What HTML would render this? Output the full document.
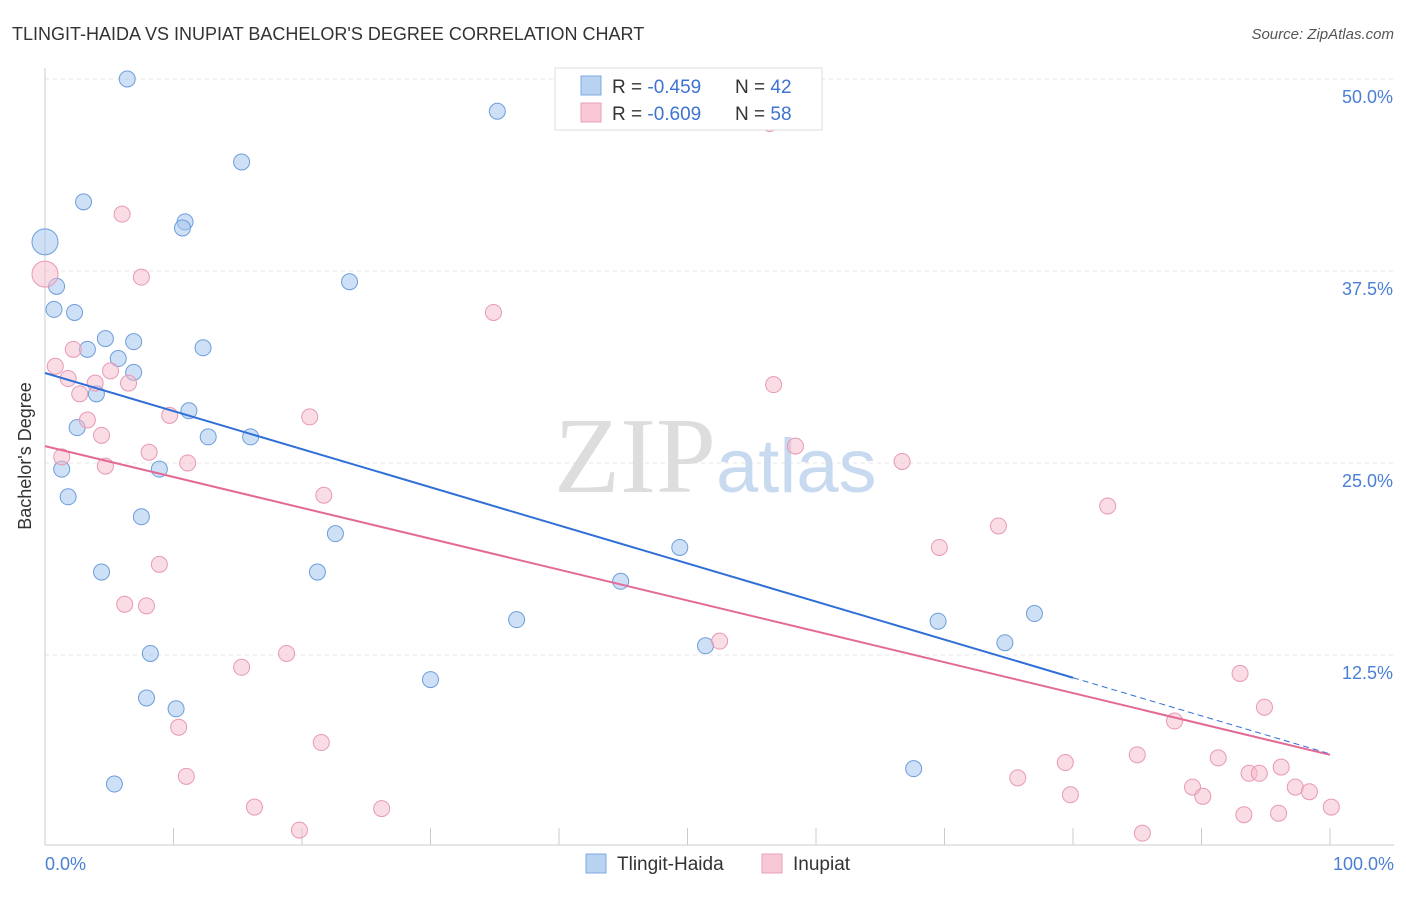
<!DOCTYPE html>
<html><head><meta charset="utf-8"><style>
body{margin:0;background:#fff;font-family:"Liberation Sans",sans-serif}
</style></head><body>
<svg width="1406" height="892" viewBox="0 0 1406 892" xmlns="http://www.w3.org/2000/svg">
<text x="12" y="40" font-size="18" fill="#333">TLINGIT-HAIDA VS INUPIAT BACHELOR'S DEGREE CORRELATION CHART</text>
<text x="1394" y="39" font-size="15" fill="#555" font-style="italic" text-anchor="end">Source: ZipAtlas.com</text>
<g id="grid"></g>
<text x="716" y="492" font-size="108" fill="#ddd" text-anchor="end" font-family="Liberation Serif">ZIP</text>
<text x="716" y="492" font-size="76" fill="#c8daf0">atlas</text>
<line x1="45" y1="68" x2="45" y2="845" stroke="#ccc"/>
<line x1="45" y1="845" x2="1394" y2="845" stroke="#ccc"/>
<text x="31" y="456" font-size="18" fill="#333" text-anchor="middle" transform="rotate(-90 31 456)">Bachelor's Degree</text>
<text x="45" y="870" font-size="18" fill="#4a7fd4">0.0%</text>
<text x="1394" y="870" font-size="18" fill="#4a7fd4" text-anchor="end">100.0%</text>
<g id="points"></g>
<g>
<rect x="555" y="68" width="267" height="62" fill="#fff" stroke="#ddd"/>
<rect x="581" y="76" width="20" height="19" fill="#b8d2f2" stroke="#7fa8e0"/>
<rect x="581" y="103" width="20" height="19" fill="#f8c8d6" stroke="#eaa0b8"/>
<text x="612" y="93" font-size="19" fill="#333">R = <tspan fill="#3d74d0">-0.459</tspan><tspan x="735">N = </tspan><tspan fill="#3d74d0">42</tspan></text>
<text x="612" y="120" font-size="19" fill="#333">R = <tspan fill="#3d74d0">-0.609</tspan><tspan x="735">N = </tspan><tspan fill="#3d74d0">58</tspan></text>
</g>
<g>
<rect x="586" y="854" width="20" height="19" fill="#b8d2f2" stroke="#7fa8e0"/>
<text x="617" y="870" font-size="19" fill="#333">Tlingit-Haida</text>
<rect x="762" y="854" width="20" height="19" fill="#f8c8d6" stroke="#eaa0b8"/>
<text x="793" y="870" font-size="19" fill="#333">Inupiat</text>
</g>
</svg>
<script>
const yTicks=[12.5,25,37.5,50];
const yTickLabels=["12.5%","25.0%","37.5%","50.0%"];
const xTicks=[0,10,20,30,40,50,60,70,80,90,100];
const blueX=[6.4,35.2,15.3,3.0,10.9,10.7,0,23.7,0.9,0.7,2.3,4.7,6.9,3.3,12.3,5.7,6.9,4.0,11.2,2.5,12.7,16.0,1.3,8.9,1.8,7.5,22.6,49.4,4.4,21.2,44.8,36.7,69.5,77.0,74.7,51.4,8.2,30.0,7.9,10.2,67.6,5.4];
const blueY=[50.0,47.9,44.6,42.0,40.7,40.3,39.4,36.8,36.5,35.0,34.8,33.1,32.9,32.4,32.5,31.8,30.9,29.5,28.4,27.3,26.7,26.7,24.6,24.6,22.8,21.5,20.4,19.5,17.9,17.9,17.3,14.8,14.7,15.2,13.3,13.1,12.6,10.9,9.7,9.0,5.1,4.1];
const pinkX=[56.4,6.0,7.5,0,34.9,0.8,2.2,1.8,3.9,5.1,6.5,2.7,3.3,9.7,20.6,4.4,56.7,8.1,1.3,11.1,4.7,58.4,66.7,21.7,82.7,74.2,69.6,8.9,6.2,7.9,52.5,18.8,15.3,93.0,94.9,87.9,10.4,21.5,85.0,79.4,91.3,75.7,11.0,96.2,93.7,94.5,89.3,90.1,97.3,79.8,98.4,16.3,26.2,100.1,96.0,93.3,19.8,85.4];
const pinkY=[47.1,41.2,37.1,37.3,34.8,31.3,32.4,30.5,30.2,31.0,30.2,29.5,27.8,28.1,28.0,26.8,30.1,25.7,25.4,25.0,24.8,26.1,25.1,22.9,22.2,20.9,19.5,18.4,15.8,15.7,13.4,12.6,11.7,11.3,9.1,8.2,7.8,6.8,6.0,5.5,5.8,4.5,4.6,5.2,4.8,4.8,3.9,3.3,3.9,3.4,3.6,2.6,2.5,2.6,2.2,2.1,1.1,0.9];
const bigBlue=[6], bigPink=[3];
const blueLine=[30.86,-0.248], blueSolidEnd=80;
const pinkLine=[26.1,-0.201];
const X=v=>45+v*12.85, Y=v=>847-v*15.36;
const NS="http://www.w3.org/2000/svg";
const grid=document.getElementById('grid'), pts=document.getElementById('points');
function mk(tag,at,parent){const e=document.createElementNS(NS,tag);for(const k in at)e.setAttribute(k,at[k]);parent.appendChild(e);return e;}
yTicks.forEach((t,i)=>{
 const l=mk('line',{x1:45,x2:1394,y1:Y(t),y2:Y(t),stroke:'#e4e4e4','stroke-dasharray':'4 4'},grid);
 
 
 const tx=mk('text',{x:1393,y:Y(t)+24,'font-size':18,fill:'#4a7fd4','text-anchor':'end'},grid);
 tx.textContent=yTickLabels[i];
 
 
});
xTicks.forEach(t=>{
 const l=mk('line',{x1:X(t),x2:X(t),y1:828,y2:845,stroke:'#ccc'},grid);
 
 
});
function dots(xs,ys,big,fill,stroke,name){
 xs.forEach((x,i)=>{
  const c=mk('circle',{cx:X(x),cy:Y(ys[i]),r:big.includes(i)?13:8,fill:fill,stroke:stroke,'stroke-width':1},pts);
  
  
 });
}
dots(blueX,blueY,bigBlue,'rgba(165,198,238,0.55)','#6d9ddb','point-tlingit-haida');
dots(pinkX,pinkY,bigPink,'rgba(246,186,204,0.5)','#e899b4','point-inupiat');
const f=(L,x)=>L[0]+L[1]*x;
let l1=mk('line',{x1:X(0),y1:Y(f(blueLine,0)),x2:X(blueSolidEnd),y2:Y(f(blueLine,blueSolidEnd)),stroke:'#2f6fd6','stroke-width':2},pts);


let l2=mk('line',{x1:X(blueSolidEnd),y1:Y(f(blueLine,blueSolidEnd)),x2:X(100),y2:Y(f(blueLine,100)),stroke:'#2f6fd6','stroke-width':1,'stroke-dasharray':'6 4'},pts);


let l3=mk('line',{x1:X(0),y1:Y(f(pinkLine,0)),x2:X(100),y2:Y(f(pinkLine,100)),stroke:'#e36a96','stroke-width':2},pts);


</script>
</body></html>
